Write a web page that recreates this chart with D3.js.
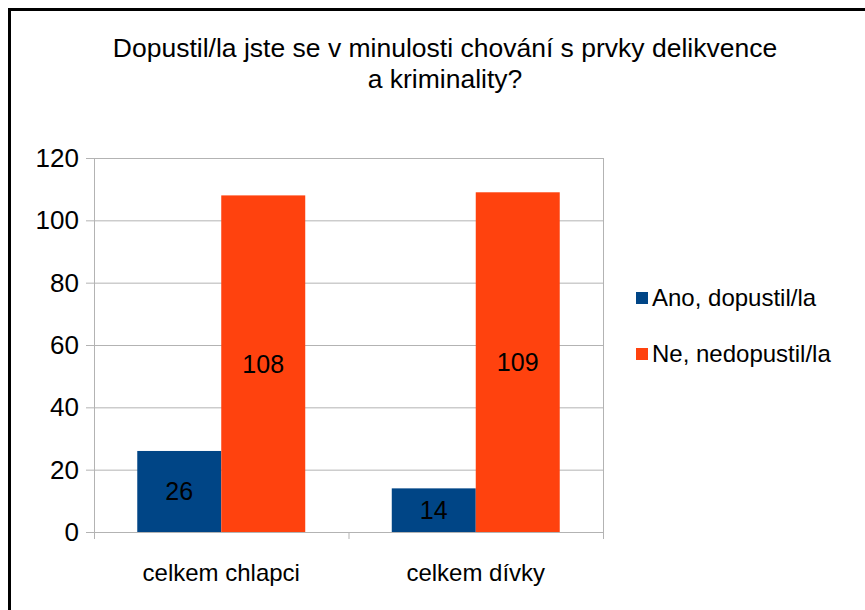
<!DOCTYPE html>
<html>
<head>
<meta charset="utf-8">
<script src="https://cdn.jsdelivr.net/npm/d3@7"></script>
<style>
  html, body { margin: 0; padding: 0; background: #fff; }
  svg text { font-family: "Liberation Sans", Arial, sans-serif; fill: #000; }
</style>
</head>
<body>
<svg id="chart" width="865" height="610"></svg>
<script>
const titleLines = ["Dopustil/la jste se v minulosti chování s prvky delikvence", "a kriminality?"];
const categories = ["celkem chlapci", "celkem dívky"];
const seriesNames = ["Ano, dopustil/la", "Ne, nedopustil/la"];
const ano = [26, 14];
const ne = [108, 109];
const yTicks = [0, 20, 40, 60, 80, 100, 120];
const colors = ["#004586", "#ff420e"];

const svg = d3.select("#chart");
const m = { left: 94, right: 603, top: 158, bottom: 532 };

// frame
svg.append("rect").attr("x", 9.5).attr("y", 9.5).attr("width", 900).attr("height", 700)
  .attr("fill", "#fff").attr("stroke", "#000").attr("stroke-width", 3);

// title
svg.append("text").attr("x", 445).attr("y", 57).attr("text-anchor", "middle")
  .attr("font-size", 26.5).text(titleLines[0]);
svg.append("text").attr("x", 445).attr("y", 88).attr("text-anchor", "middle")
  .attr("font-size", 26.5).text(titleLines[1]);

const data = categories.map((c, i) => ({ cat: c, values: [ano[i], ne[i]] }));

const x0 = d3.scaleBand().domain(categories).range([m.left, m.right]).paddingInner(0.34).paddingOuter(0.17);
const x1 = d3.scaleBand().domain([0, 1]).range([0, x0.bandwidth()]);
const y = d3.scaleLinear().domain([0, 120]).range([m.bottom, m.top]);

// gridlines
svg.append("g").selectAll("line").data(yTicks).join("line")
  .attr("x1", m.left - 8).attr("x2", m.right)
  .attr("y1", d => y(d) + 0.5).attr("y2", d => y(d) + 0.5)
  .attr("stroke", "#b3b3b3").attr("stroke-width", 1);

// plot border left and right
svg.append("line").attr("x1", m.left + 0.5).attr("x2", m.left + 0.5).attr("y1", m.top).attr("y2", m.bottom + 7)
  .attr("stroke", "#b3b3b3");
svg.append("line").attr("x1", m.right + 0.5).attr("x2", m.right + 0.5).attr("y1", m.top).attr("y2", m.bottom + 7)
  .attr("stroke", "#b3b3b3");
// category separator tick
const step = x0.step();
svg.append("line").attr("x1", m.left + step + 0.5).attr("x2", m.left + step + 0.5)
  .attr("y1", m.bottom).attr("y2", m.bottom + 7).attr("stroke", "#b3b3b3");

// y labels
svg.append("g").selectAll("text").data(yTicks).join("text")
  .attr("x", 79).attr("y", d => y(d) + 9).attr("text-anchor", "end")
  .attr("font-size", 26).text(d => d);

// bars
const groups = svg.append("g").selectAll("g").data(data).join("g")
  .attr("transform", d => `translate(${x0(d.cat)},0)`);
groups.selectAll("rect").data(d => d.values.map((v, k) => ({ v, k }))).join("rect")
  .attr("x", d => x1(d.k)).attr("width", x1.bandwidth())
  .attr("y", d => y(d.v)).attr("height", d => y(0) - y(d.v))
  .attr("fill", d => colors[d.k]);
groups.selectAll("text").data(d => d.values.map((v, k) => ({ v, k }))).join("text")
  .attr("x", d => x1(d.k) + x1.bandwidth() / 2)
  .attr("y", d => (y(d.v) + y(0)) / 2 + 9)
  .attr("text-anchor", "middle").attr("font-size", 25).text(d => d.v);

// category labels
svg.append("g").selectAll("text").data(categories).join("text")
  .attr("x", d => x0(d) + x0.bandwidth() / 2).attr("y", 581)
  .attr("text-anchor", "middle").attr("font-size", 24).text(d => d);

// legend
const lg = svg.append("g").selectAll("g").data(seriesNames).join("g")
  .attr("transform", (d, i) => `translate(636, ${292 + i * 56})`);
lg.append("rect").attr("width", 12).attr("height", 12).attr("fill", (d, i) => colors[i]);
lg.append("text").attr("x", 16).attr("y", 14).attr("font-size", 24).text(d => d);
</script>
</body>
</html>
